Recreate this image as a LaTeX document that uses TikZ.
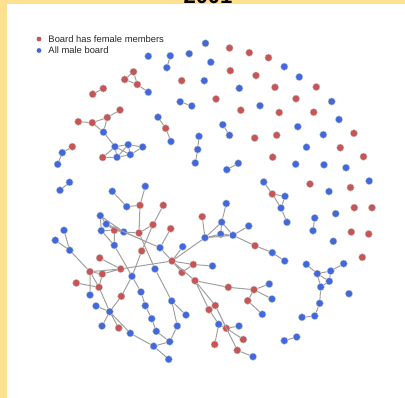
\documentclass[tikz,border=0pt]{standalone}
\usepackage{fontspec}
\newfontfamily\legendfont{Liberation Sans}
\usetikzlibrary{positioning}
\definecolor{femred}{RGB}{200,85,85}
\definecolor{maleblue}{RGB}{65,105,222}
\definecolor{linkgray}{RGB}{160,160,160}
\definecolor{frameyellow}{RGB}{255,224,142}
\tikzset{
  fem/.style={ % board that has female members
    circle, draw=gray!45, line width=0.4pt,
    fill=femred, minimum size=7.3pt, inner sep=0pt
  },
  allmale/.style={ % board with men only
    circle, draw=gray!45, line width=0.4pt,
    fill=maleblue, minimum size=7.3pt, inner sep=0pt
  },
  link/.style={draw=linkgray, line width=1pt},
  legenddot/.style={circle, minimum size=4.8pt, inner sep=0pt},
  legendtext/.style={
    font=\legendfont\fontsize{9.4}{11}\selectfont, inner sep=0pt, text=black!85
  }
}

\begin{document}
\begin{tikzpicture}[x=1pt, y=-1pt]
  \useasboundingbox (0,0) rectangle (405,398);
  \fill[frameyellow] (0,0) rectangle (7,398);
  \fill[frameyellow] (0,0) rectangle (405,4);
  \node[font=\legendfont\fontsize{22}{24}\selectfont\bfseries, anchor=base, inner sep=0pt] (title) at (208,3.5) {2001};

  % legend
  \node[legenddot, fill=femred] (keyf) at (39,39) {};
  \node[legenddot, fill=maleblue] (keym) at (39,50.5) {};
  \node[legendtext, right=6.7pt of keyf] (keyftext) {Board has female members};
  \node[legendtext, right=6.7pt of keym] (keymtext) {All male board};

  % boards with no links
  \foreach \x/\y [count=\i] in {181.7/80.7, 229.5/48, 249.3/52.7, 268.5/57.7, 230.3/70.7,
      256/75.5, 275/87.3, 316.3/87, 216/99, 240.8/110.2, 296/98.7, 279.2/112.5,
      313.7/112.2, 254.7/138, 276.7/135.2, 353.9/133.3, 340.3/147.7, 363.5/156.7,
      272.7/157.2, 310/184, 350.5/187.5, 354.3/207.7, 372/207.7, 351.3/232,
      368.7/234, 362.3/257.3}
    \node[fem] (lonef\i) at (\x,\y) {};
  \foreach \x/\y [count=\i] in {205.5/43.3, 148.3/56.2, 189.2/53.7, 210.8/62.2,
      284.3/66.7, 299.3/77, 204.3/80.7, 239.3/88.3, 260/105.7, 331.7/101.5,
      339/119.5, 297.8/126.7, 323.3/134.7, 306.5/147.2, 295.7/164.2, 324/164.8,
      346/167.7, 369.2/181, 329/191.5, 335.7/213.7, 333.3/241.3, 349/293.7}
    \node[allmale] (lonem\i) at (\x,\y) {};

  % pairs and short chains
  \node[allmale] (pa1) at (170.3,55.8) {};
  \node[allmale] (pa2) at (166.8,67.7) {};
  \node[fem] (pb1) at (103.3,88.5) {};
  \node[fem] (pb2) at (92.7,94.2) {};
  \node[allmale] (pc1) at (180.2,101.8) {};
  \node[allmale] (pc2) at (191.8,106) {};
  \node[allmale] (pd1) at (222.8,124.7) {};
  \node[allmale] (pd2) at (229.5,135.3) {};
  \node[allmale] (pe1) at (238.3,163.3) {};
  \node[allmale] (pe2) at (226.8,169.7) {};
  \node[allmale] (pf1) at (69.5,182.3) {};
  \node[allmale] (pf2) at (60,190.3) {};
  \node[allmale] (pg1) at (314.7,218) {};
  \node[allmale] (pg2) at (313,230.7) {};
  \node[allmale] (ph1) at (296.7,337) {};
  \node[allmale] (ph2) at (284.3,340.7) {};
  \node[allmale] (ca1) at (158,117.2) {};
  \node[fem] (ca2) at (165.7,128.3) {};
  \node[allmale] (ca3) at (171,141.5) {};
  \node[allmale] (cb1) at (199,136.3) {};
  \node[allmale] (cb2) at (197.7,149.5) {};
  \node[allmale] (cb3) at (195.3,163) {};
  \node[fem] (cc1) at (72.3,146.7) {};
  \node[allmale] (cc2) at (62.3,152.7) {};
  \node[allmale] (cc3) at (57.7,164.3) {};
  \draw[link] (pa1) -- (pa2) (pb1) -- (pb2) (pc1) -- (pc2) (pd1) -- (pd2)
    (pe1) -- (pe2) (pf1) -- (pf2) (pg1) -- (pg2) (ph1) -- (ph2)
    (ca1) -- (ca2) -- (ca3) (cb1) -- (cb2) -- (cb3) (cc1) -- (cc2) -- (cc3);

  % triangle
  \node[fem] (tr1) at (133.5,71.8) {};
  \node[fem] (tr2) at (124.7,79.5) {};
  \node[fem] (tr3) at (137.3,84.5) {};
  \node[allmale] (tr4) at (148.3,92.2) {};
  \draw[link] (tr1) -- (tr2) -- (tr3) -- (tr1) (tr3) -- (tr4);

  % north-west cluster
  \node[fem] (a1) at (120,110) {};
  \node[fem] (a2) at (107.3,117.5) {};
  \node[fem] (a3) at (92.3,122.7) {};
  \node[fem] (a4) at (78.3,121.7) {};
  \node[allmale] (a5) at (103.5,132.2) {};
  \node[allmale] (c1) at (115,146.7) {};
  \node[allmale] (c2) at (128.2,144.7) {};
  \node[allmale] (c3) at (142.7,147) {};
  \node[fem] (c4) at (102.7,157.5) {};
  \node[allmale] (c5) at (117,157.3) {};
  \node[allmale] (c6) at (130.3,154.7) {};
  \draw[link] (a1) -- (a2) -- (a3) -- (a4) (a3) -- (a5) -- (a2) (a5) -- (c1)
    (c1) -- (c2) -- (c3) -- (c6) (c1) -- (c4) -- (c5) -- (c6) -- (c2)
    (c1) -- (c5) (c1) -- (c6) (c2) -- (c5);

  % east cluster
  \node[allmale] (e1) at (263.7,182) {};
  \node[fem] (e2) at (272.3,194) {};
  \node[allmale] (e3) at (285,196.3) {};
  \node[allmale] (e4) at (281,208) {};
  \node[allmale] (e5) at (287,222.3) {};
  \draw[link] (e1) -- (e2) -- (e3) -- (e4) -- (e2) (e4) -- (e5);

  % south-east cluster
  \node[allmale] (w1) at (306.3,264.3) {};
  \node[allmale] (w2) at (317.3,273.7) {};
  \node[allmale] (w3) at (330.7,271) {};
  \node[allmale] (w4) at (343.7,263.7) {};
  \node[allmale] (w5) at (329.3,281.3) {};
  \node[allmale] (w6) at (320.7,287) {};
  \node[allmale] (w7) at (319.7,303.3) {};
  \node[allmale] (w8) at (314.7,316) {};
  \node[allmale] (w9) at (302,317.3) {};
  \draw[link] (w1) -- (w2) -- (w3) -- (w4) (w2) -- (w5) -- (w3) (w2) -- (w6) -- (w5)
    (w6) -- (w7) -- (w8) -- (w9);

  % main component
  \node[fem] (h) at (172,261) {};
  \node[allmale] (g1) at (182.7,246.7) {};
  \node[fem] (k1) at (193.3,264.5) {};
  \node[allmale] (k2) at (212.5,266) {};
  \node[fem] (k3) at (182,272.5) {};
  \node[fem] (k4) at (195,280.7) {};
  \node[allmale] (j1) at (205,237.7) {};
  \node[fem] (j2) at (202.2,216.7) {};
  \node[allmale] (j3) at (221.7,222.2) {};
  \node[allmale] (j4) at (220.7,234.2) {};
  \node[allmale] (j5) at (233,235.3) {};
  \node[allmale] (j6) at (226.3,203.5) {};
  \node[allmale] (j7) at (248.7,226) {};
  \node[fem] (j8) at (255,245.7) {};
  \node[allmale] (j9) at (272.3,252.7) {};
  \node[allmale] (j10) at (284.7,261) {};
  \node[fem] (m1) at (228.3,287.3) {};
  \node[fem] (m2) at (254,289.7) {};
  \node[allmale] (m3) at (269.3,284) {};
  \node[allmale] (m4) at (272,299) {};
  \node[fem] (m5) at (247.7,300.7) {};
  \node[allmale] (m6) at (262.3,314.3) {};
  \node[fem] (n1) at (215.3,305.5) {};
  \node[fem] (n2) at (209,309.7) {};
  \node[allmale] (n3) at (218.7,324.3) {};
  \node[fem] (n4) at (226.3,328.3) {};
  \node[fem] (n5) at (214.7,344.5) {};
  \node[allmale] (n6) at (239,326) {};
  \node[fem] (n7) at (243.3,339.5) {};
  \node[fem] (n8) at (237.3,350.3) {};
  \node[allmale] (n9) at (253,356.7) {};
  \node[fem] (p1) at (120.7,269) {};
  \node[fem] (p2) at (90,271.7) {};
  \node[fem] (p3) at (102.3,274) {};
  \node[fem] (p4) at (99.7,258) {};
  \node[fem] (p5) at (99,287.3) {};
  \node[fem] (p6) at (76.3,283) {};
  \node[allmale] (p7) at (109.7,311.7) {};
  \node[allmale] (p8) at (90,295) {};
  \node[allmale] (p9) at (96,306) {};
  \node[allmale] (p10) at (102,326) {};
  \node[fem] (p11) at (118.7,328) {};
  \node[fem] (p12) at (121.3,296.3) {};
  \node[allmale] (p13) at (132,276.3) {};
  \node[allmale] (p14) at (130.3,333.3) {};
  \node[allmale] (q1) at (141,292) {};
  \node[allmale] (q2) at (145.3,305.7) {};
  \node[allmale] (q3) at (151.7,318.7) {};
  \node[allmale] (q4) at (156.3,331.3) {};
  \node[allmale] (q5) at (169.7,341.7) {};
  \node[allmale] (q6) at (153.7,346.2) {};
  \node[allmale] (q7) at (168.7,359.3) {};
  \node[allmale] (q8) at (177.3,326) {};
  \node[allmale] (q9) at (171.7,301) {};
  \node[allmale] (q10) at (186,315) {};
  \node[allmale] (x1) at (64,230.3) {};
  \node[allmale] (x2) at (55.3,240.3) {};
  \node[allmale] (x3) at (69.7,250.3) {};
  \node[allmale] (r1) at (145.3,186.3) {};
  \node[fem] (r2) at (140,205.3) {};
  \node[allmale] (r3) at (112.3,191.3) {};
  \node[allmale] (r4) at (126.7,206.7) {};
  \node[fem] (r5) at (139,233) {};
  \node[allmale] (s1) at (100.3,215.7) {};
  \node[allmale] (s2) at (106.3,224) {};
  \node[allmale] (s3) at (101.3,230.7) {};
  \node[fem] (s4) at (114.3,230.3) {};
  \node[allmale] (s5) at (123.7,232) {};
  \node[allmale] (s6) at (114.3,245.3) {};
  \node[allmale] (u1) at (160,247.7) {};
  \node[fem] (u2) at (170.7,228.7) {};
  \node[fem] (u3) at (163.3,205.3) {};
  \node[fem] (u4) at (153,224.7) {};
  \node[fem] (u5) at (141.7,251) {};
  \node[allmale] (v1) at (155,269) {};

  \draw[link] (h) -- (g1) (h) -- (k1) -- (k2) (h) -- (k3) -- (k1) (h) -- (k4)
    (h) -- (j1) -- (j2) (j1) -- (j3) -- (j4) -- (j1) (j3) -- (j5) -- (j4) (j1) -- (j5)
    (j3) -- (j6) (j5) -- (j7) (j5) -- (j8) -- (j9) -- (j10);
  \draw[link] (k4) -- (m1) -- (m2) -- (m3) (m2) -- (m4) (m2) -- (m5) -- (m6)
    (k4) -- (n1) (k4) -- (n2) -- (n3) -- (n4) -- (n1) (n3) -- (n5) (n4) -- (n6)
    (n4) -- (n7) (n1) -- (n8) -- (n9);
  \draw[link] (h) -- (p1) -- (p2) -- (p3) -- (p1) -- (p4) (p2) -- (p5) -- (p3)
    (p5) -- (p6) (p2) -- (p8) (p5) -- (p7) -- (p9) (p7) -- (p10) (p7) -- (p11)
    (p7) -- (p12) -- (p13) (p7) -- (p14) -- (q6);
  \draw[link] (p13) -- (q1) -- (q2) -- (q3) -- (q4) -- (q5) -- (q6) -- (q7)
    (q5) -- (q8) -- (q9) -- (q10);
  \draw[link] (x1) -- (x3) -- (x2) (x3) -- (p2);
  \draw[link] (r1) -- (r2) -- (r4) -- (r3) (r2) -- (r5)
    (s1) -- (s2) -- (s4) -- (s3) -- (s1) (s3) -- (s6) -- (s4) -- (s5) -- (s2)
    (s1) -- (s5) -- (r5) (s2) -- (u1) (s5) -- (u1) (s6) -- (p13);
  \draw[link] (u1) -- (h) (u2) -- (u1) (u3) -- (u4) -- (r5) (u4) -- (u5) -- (p13)
    (r5) -- (v1) -- (q9);
\end{tikzpicture}
\end{document}
